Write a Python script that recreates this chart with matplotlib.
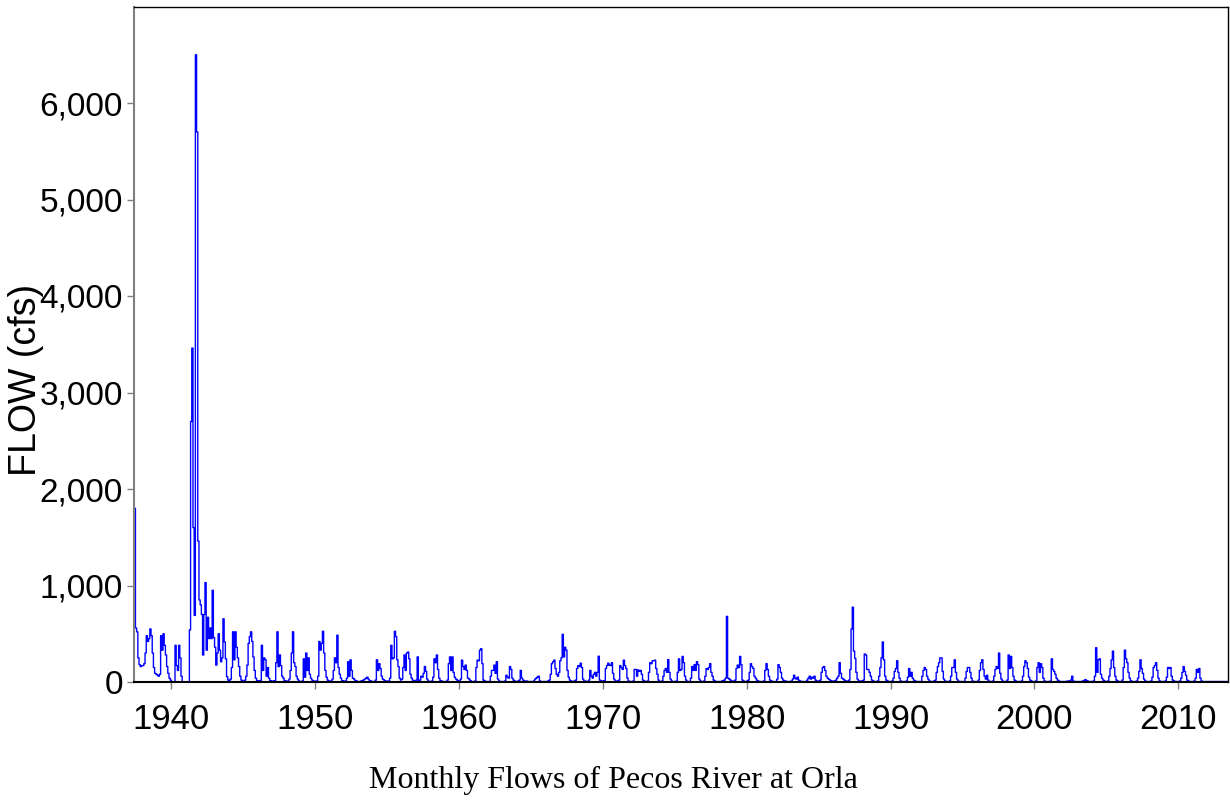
import numpy as np
import matplotlib
matplotlib.use("Agg")
import matplotlib.pyplot as plt
from matplotlib import font_manager
from matplotlib.ticker import FuncFormatter, FixedLocator

# Monthly flows (cfs), Pecos River at Orla, starting June 1937
start_year = 1937
start_month = 6

flow_1930s = [1800, 560, 520, 250, 180, 160, 170,
              170, 190, 300, 480, 420, 450, 550, 480, 300, 150, 90, 80,
              70, 60, 80, 480, 330, 500, 380, 280, 160, 90, 40, 20]
flow_1940s = [5, 0, 0, 380, 170, 120, 380, 250, 60, 0, 0, 0,
              0, 0, 0, 540, 2700, 3460, 1600, 690, 6500, 5700, 1460, 850,
              800, 700, 280, 700, 1030, 330, 670, 450, 560, 450, 950, 460,
              360, 175, 300, 500, 330, 210, 250, 655, 415, 240, 55, 20,
              10, 30, 150, 520, 230, 520, 360, 250, 160, 60, 20, 10,
              10, 20, 60, 175, 400, 470, 520, 420, 260, 120, 40, 15,
              10, 10, 15, 380, 120, 250, 230, 60, 150, 40, 15, 10,
              10, 10, 15, 200, 520, 160, 280, 170, 60, 40, 15, 10,
              10, 10, 30, 120, 300, 520, 200, 160, 60, 30, 10, 5,
              5, 10, 240, 50, 300, 120, 250, 80, 40, 20, 10, 5]
flow_1950s = [10, 10, 60, 420, 330, 400, 525, 300, 120, 50, 20, 10,
              10, 10, 30, 120, 250, 200, 485, 150, 80, 40, 15, 10,
              5, 10, 40, 210, 60, 230, 120, 40, 30, 15, 10, 5,
              5, 5, 10, 15, 20, 30, 40, 50, 30, 15, 10, 5,
              5, 5, 20, 230, 120, 190, 140, 60, 30, 20, 10, 5,
              10, 10, 40, 380, 240, 250, 525, 470, 230, 160, 40, 20,
              30, 150, 280, 120, 300, 310, 240, 80, 40, 20, 10, 5,
              20, 260, 10, 20, 60, 50, 90, 160, 110, 30, 10, 5,
              5, 10, 50, 240, 200, 280, 130, 40, 15, 10, 5, 5,
              5, 5, 20, 190, 260, 120, 260, 100, 50, 30, 20, 10]
flow_1960s = [10, 30, 227, 160, 130, 175, 120, 40, 30, 15, 5, 5,
              5, 10, 150, 227, 220, 330, 345, 190, 20, 10, 5, 5,
              5, 5, 60, 120, 120, 175, 90, 210, 30, 10, 5, 5,
              5, 5, 10, 70, 50, 40, 160, 130, 40, 20, 10, 5,
              5, 10, 20, 120, 40, 20, 10, 10, 10, 5, 5, 5,
              5, 5, 10, 30, 40, 50, 60, 10, 5, 5, 5, 5,
              5, 5, 10, 20, 80, 190, 210, 227, 140, 80, 60, 100,
              220, 250, 494, 260, 360, 330, 120, 50, 20, 10, 5, 5,
              10, 20, 140, 170, 160, 195, 150, 30, 10, 10, 5, 5,
              20, 120, 60, 40, 80, 100, 60, 100, 267, 20, 10, 5]
flow_1970s = [10, 15, 140, 170, 195, 175, 170, 200, 90, 30, 10, 5,
              10, 20, 170, 150, 130, 226, 170, 140, 40, 10, 5, 5,
              5, 10, 130, 130, 60, 125, 110, 120, 80, 20, 10, 5,
              5, 10, 100, 200, 190, 220, 220, 226, 140, 80, 20, 5,
              5, 10, 60, 120, 140, 100, 232, 100, 30, 10, 5, 5,
              5, 10, 100, 240, 120, 130, 265, 200, 60, 20, 5, 5,
              5, 40, 160, 120, 180, 120, 210, 180, 30, 10, 5, 5,
              10, 60, 140, 130, 150, 190, 100, 60, 20, 10, 5, 5,
              5, 5, 5, 10, 15, 20, 40, 680, 40, 30, 20, 10,
              10, 10, 20, 140, 175, 150, 265, 180, 20, 10, 5, 5]
flow_1980s = [10, 20, 100, 190, 160, 140, 60, 40, 20, 10, 5, 5,
              5, 5, 10, 120, 190, 130, 60, 20, 10, 5, 5, 5,
              5, 30, 180, 150, 100, 40, 20, 10, 10, 5, 5, 5,
              5, 10, 30, 70, 40, 30, 50, 20, 10, 5, 5, 5,
              5, 5, 20, 40, 60, 30, 50, 40, 60, 20, 10, 5,
              10, 20, 100, 150, 160, 120, 60, 40, 30, 20, 10, 10,
              10, 10, 20, 40, 60, 200, 90, 40, 30, 20, 10, 10,
              10, 20, 130, 550, 775, 320, 245, 100, 30, 10, 10, 5,
              10, 20, 290, 280, 130, 130, 100, 60, 20, 10, 5, 5,
              5, 10, 60, 150, 250, 415, 230, 60, 20, 10, 5, 5]
flow_1990s = [5, 10, 40, 110, 140, 220, 100, 40, 10, 5, 5, 5,
              5, 10, 50, 140, 60, 100, 40, 20, 10, 5, 5, 5,
              5, 5, 60, 120, 150, 130, 60, 30, 10, 5, 5, 5,
              10, 20, 100, 160, 200, 250, 250, 110, 30, 10, 5, 5,
              5, 10, 60, 150, 150, 230, 100, 30, 10, 5, 5, 5,
              5, 5, 40, 110, 150, 150, 100, 40, 10, 5, 5, 5,
              5, 20, 120, 200, 230, 130, 60, 30, 70, 20, 5, 5,
              5, 10, 60, 130, 160, 140, 300, 90, 30, 10, 5, 5,
              5, 20, 280, 140, 265, 150, 60, 20, 10, 5, 5, 5,
              5, 10, 60, 160, 220, 200, 140, 50, 20, 10, 5, 5]
flow_2000s = [5, 10, 150, 200, 100, 190, 150, 40, 10, 5, 5, 5,
              5, 10, 240, 130, 110, 80, 40, 20, 10, 5, 5, 5,
              5, 5, 5, 10, 10, 10, 20, 60, 10, 5, 5, 5,
              5, 5, 5, 5, 10, 15, 25, 15, 10, 5, 5, 5,
              5, 10, 60, 355, 100, 230, 240, 80, 40, 20, 10, 5,
              5, 10, 60, 140, 230, 320, 150, 60, 20, 10, 5, 5,
              5, 20, 150, 330, 240, 200, 100, 40, 15, 5, 5, 5,
              5, 10, 40, 110, 230, 140, 90, 30, 10, 5, 5, 5,
              5, 10, 50, 150, 170, 200, 120, 40, 10, 5, 5, 5,
              5, 10, 50, 150, 140, 150, 60, 20, 10, 5, 5, 5]
flow_2010s = [5, 10, 40, 100, 160, 110, 70, 20, 10, 5, 5, 5,
              5, 10, 40, 130, 100, 140, 40, 10, 5, 5, 5, 5,
              5, 5, 5, 5, 5, 5, 5, 5, 5, 5, 5, 5,
              5, 5, 5, 5]

y_ticks = [0, 1000, 2000, 3000, 4000, 5000, 6000]
x_ticks = [1940, 1950, 1960, 1970, 1980, 1990, 2000, 2010]
y_label = "FLOW (cfs)"
caption = "Monthly Flows of Pecos River at Orla"

flows = np.array(flow_1930s + flow_1940s + flow_1950s + flow_1960s +
                 flow_1970s + flow_1980s + flow_1990s + flow_2000s +
                 flow_2010s, dtype=float)
t = start_year + (start_month - 1) / 12.0 + np.arange(len(flows)) / 12.0
x_end = 2013.42
t_plot = np.append(t, x_end)
f_plot = np.append(flows, flows[-1])


def has_font(name):
    try:
        font_manager.findfont(name, fallback_to_default=False)
        return True
    except Exception:
        return False


narrow = has_font("Liberation Sans Narrow")
tick_family = ["Liberation Sans Narrow"] if narrow else ["Liberation Sans"]

fig = plt.figure(figsize=(12.3, 8.01), dpi=100)
ax = fig.add_axes([134 / 1230, 1 - 682 / 801, (1227.5 - 134) / 1230, (682 - 6.5) / 801])

ax.plot(t_plot, f_plot, drawstyle="steps-post", color="#0000ff", lw=1.0)

ax.set_xlim(1937.40, x_end)
ax.set_ylim(0, 7000)
ax.xaxis.set_major_locator(FixedLocator(x_ticks))
ax.yaxis.set_major_locator(FixedLocator(y_ticks))
ax.yaxis.set_major_formatter(FuncFormatter(lambda v, p: f"{int(v):,}"))

for s in ["top", "right", "bottom"]:
    ax.spines[s].set_color("black")
    ax.spines[s].set_linewidth(1.0)
ax.spines["left"].set_color("#808080")
ax.spines["left"].set_linewidth(1.5)
ax.spines["bottom"].set_linewidth(1.5)

ax.tick_params(axis="both", direction="out", length=5, width=1.0, color="#808080")
ax.tick_params(axis="y", pad=3)
ax.tick_params(axis="x", pad=10)

ysize = 30 if narrow else 24
xsize = 30 if narrow else 25
for lab in ax.get_yticklabels():
    lab.set_fontfamily(tick_family)
    lab.set_fontsize(ysize)
for lab in ax.get_xticklabels():
    lab.set_fontfamily(tick_family)
    lab.set_fontsize(xsize)

fig.text(26 / 1230, 1 - 380 / 801, y_label, rotation=90, ha="center", va="center",
         fontsize=27, family=["Liberation Sans", "DejaVu Sans"])
fig.text(613 / 1230, 1 - 780 / 801, caption, ha="center", va="center",
         fontsize=23, family=["Liberation Serif", "DejaVu Serif"])

fig.savefig("out.png", dpi=100)
